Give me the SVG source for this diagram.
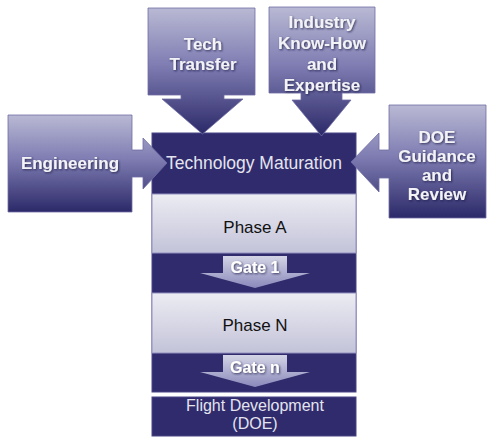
<svg xmlns="http://www.w3.org/2000/svg" width="489" height="437" viewBox="0 0 489 437">
  <defs>
    <linearGradient id="inGrad" x1="0" y1="0" x2="0" y2="1">
      <stop offset="0" stop-color="#b9b9d4"/>
      <stop offset="0.45" stop-color="#7f7db2"/>
      <stop offset="1" stop-color="#2c2969"/>
    </linearGradient>
    <linearGradient id="phaseGrad" x1="0" y1="0" x2="0" y2="1">
      <stop offset="0" stop-color="#ececf3"/>
      <stop offset="1" stop-color="#c3c3d9"/>
    </linearGradient>
    <linearGradient id="gateGrad" x1="0" y1="0" x2="0" y2="1">
      <stop offset="0" stop-color="#d4d4e6"/>
      <stop offset="1" stop-color="#8a89bb"/>
    </linearGradient>
    <filter id="txtShadow" x="-10%" y="-20%" width="120%" height="150%">
      <feDropShadow dx="1" dy="1" stdDeviation="0.8" flood-color="#1a1840" flood-opacity="0.8"/>
    </filter>
  </defs>
  <style>
    .dark { fill: #2f2b6c; stroke: #4a4785; stroke-width: 1; }
    .phase { fill: url(#phaseGrad); stroke: #9290c0; stroke-width: 1; }
    .gate { fill: url(#gateGrad); }
    .input { fill: url(#inGrad); stroke: #6f6da3; stroke-width: 0.8; }
    .lbl { font-family: "Liberation Sans", Arial, sans-serif; text-anchor: middle; }
    .inTxt { font-size: 17px; font-weight: bold; fill: #f2f2f7; filter: url(#txtShadow); }
    .darkTxt { font-size: 17.5px; fill: #e4e4ee; }
    .flightTxt { font-size: 16px; fill: #e4e4ee; }
    .phaseTxt { font-size: 17px; fill: #111; }
    .gateTxt { font-size: 16px; font-weight: bold; fill: #ffffff; filter: url(#txtShadow); }
  </style>

  <!-- central stack -->
  <g id="stack">
    <rect class="dark" x="152" y="133" width="204" height="259"/>
    <g id="tech-maturation">
      <text class="lbl darkTxt" x="254" y="169">Technology Maturation</text>
    </g>
    <g id="phase-a">
      <rect class="phase" x="152" y="194" width="204" height="59"/>
      <text class="lbl phaseTxt" x="255" y="233">Phase A</text>
    </g>
    <g id="gate-1">
      <path class="gate" d="M223,256 H287 V273 H310 L255,288 L200,273 H223 Z"/>
      <text class="lbl gateTxt" x="255" y="273">Gate 1</text>
    </g>
    <g id="phase-n">
      <rect class="phase" x="152" y="293" width="204" height="60"/>
      <text class="lbl phaseTxt" x="255" y="331">Phase N</text>
    </g>
    <g id="gate-n">
      <path class="gate" d="M223,355 H287 V372 H310 L255,387 L200,372 H223 Z"/>
      <text class="lbl gateTxt" x="255" y="373">Gate n</text>
    </g>
    <g id="flight-development">
      <rect class="dark" x="152" y="397" width="204" height="39"/>
      <text class="lbl flightTxt" x="255" y="411">Flight Development</text>
      <text class="lbl flightTxt" x="255" y="429">(DOE)</text>
    </g>
  </g>

  <!-- input callouts pointing at the maturation block -->
  <g id="connectors">
    <g id="tech-transfer">
      <path class="input" d="M148,8 H255 V95 H224 V99 H243 L202.5,134 L162,99 H181 V95 H148 Z"/>
      <text class="lbl inTxt" x="203" y="50">Tech</text>
      <text class="lbl inTxt" x="203" y="70">Transfer</text>
    </g>
    <g id="industry">
      <path class="input" d="M269,7 H375 V93 H342 V100 H351 L321.5,136 L292,100 H301 V93 H269 Z"/>
      <text class="lbl inTxt" x="322" y="28">Industry</text>
      <text class="lbl inTxt" x="322" y="49">Know-How</text>
      <text class="lbl inTxt" x="322" y="70">and</text>
      <text class="lbl inTxt" x="322" y="91">Expertise</text>
    </g>
    <g id="engineering">
      <path class="input" d="M8,115 H132 V150 H143 V138 L167,163 L143,189 V177 H132 V212 H8 Z"/>
      <text class="lbl inTxt" x="70" y="169">Engineering</text>
    </g>
    <g id="doe-guidance">
      <path class="input" d="M389,105 H486 V218 H389 V178 H379 V192 L351,162 L379,133 V150 H389 Z"/>
      <text class="lbl inTxt" x="437" y="143">DOE</text>
      <text class="lbl inTxt" x="437" y="162">Guidance</text>
      <text class="lbl inTxt" x="437" y="181">and</text>
      <text class="lbl inTxt" x="437" y="200">Review</text>
    </g>
  </g>
</svg>
